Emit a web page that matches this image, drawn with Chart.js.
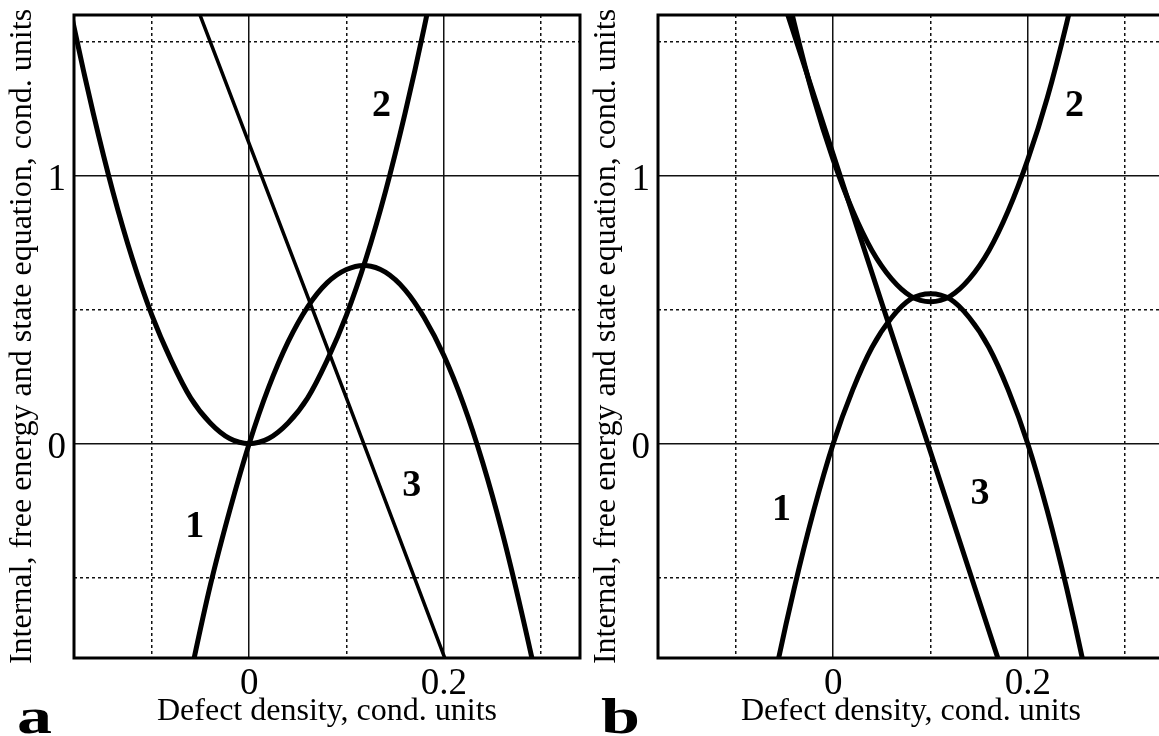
<!DOCTYPE html>
<html><head><meta charset="utf-8">
<script src="https://cdn.jsdelivr.net/npm/chart.js@4.4.1/dist/chart.umd.min.js"></script>
<style>
html,body{margin:0;padding:0;background:#fff;overflow:hidden;width:1159px;height:736px;position:relative;}
.panel{position:absolute;top:0;width:590px;height:736px;}
#pa{left:0px}
#pb{left:584px}
</style></head><body>
<div class="panel" id="pa"><canvas id="ca" width="590" height="736"></canvas></div>
<div class="panel" id="pb"><canvas id="cb" width="590" height="736"></canvas></div>
<script>
// ---- Axis ticks ----
const xMajorTicks = [0, 0.2];
const xTickLabels = ['0', '0.2'];
const xMinorTicks = [-0.1, 0.1, 0.3];
const yMajorTicks = [0, 1];
const yTickLabels = ['0', '1'];
const yMinorTicks = [-0.5, 0.5, 1.5];

// ---- Panel a ----
const a1X = [-0.08, -0.06, -0.04, -0.02, 0, 0.02, 0.04, 0.06, 0.08, 0.10, 0.12, 0.14, 0.16, 0.18, 0.20, 0.22, 0.24, 0.26, 0.28, 0.30, 0.32];
const a1Y = [-1.22, -0.86, -0.53, -0.25, 0, 0.21, 0.38, 0.51, 0.60, 0.65, 0.665, 0.64, 0.575, 0.47, 0.33, 0.15, -0.07, -0.33, -0.63, -0.96, -1.34];
const a2X = [-0.20, -0.18, -0.16, -0.14, -0.12, -0.10, -0.08, -0.06, -0.04, -0.02, 0, 0.02, 0.04, 0.06, 0.08, 0.10, 0.12, 0.14, 0.16, 0.18, 0.20];
const a2Y = [1.92, 1.555, 1.23, 0.94, 0.69, 0.48, 0.31, 0.17, 0.077, 0.019, 0, 0.019, 0.077, 0.17, 0.31, 0.48, 0.69, 0.94, 1.23, 1.555, 1.92];
const a3X = [-0.06, 0, 0.1, 0.2, 0.22];
const a3Y = [1.69, 1.12, 0.17, -0.79, -0.98];

// ---- Panel b ----
const b1X = [-0.08, -0.06, -0.04, -0.02, 0, 0.02, 0.04, 0.06, 0.08, 0.10, 0.12, 0.14, 0.16, 0.18, 0.20, 0.22, 0.24, 0.26, 0.28];
const b1Y = [-1.25, -0.87, -0.54, -0.25, 0, 0.20, 0.36, 0.47, 0.54, 0.56, 0.54, 0.47, 0.36, 0.20, 0, -0.25, -0.54, -0.87, -1.25];
const b2X = [-0.08, -0.06, -0.04, -0.02, 0, 0.02, 0.04, 0.06, 0.08, 0.10, 0.12, 0.14, 0.16, 0.18, 0.20, 0.22, 0.24, 0.26, 0.28];
const b2Y = [2.25, 1.89, 1.57, 1.29, 1.06, 0.87, 0.72, 0.615, 0.55, 0.53, 0.55, 0.615, 0.72, 0.87, 1.06, 1.29, 1.57, 1.89, 2.25];
const b3X = [-0.06, 0, 0.1, 0.18];
const b3Y = [1.75, 1.08, -0.03, -0.92];

const curveLabels = ['1', '2', '3'];
const panelLetters = ['a', 'b'];
const xTitle = 'Defect density, cond. units';
const yTitle = 'Internal, free energy and state equation, cond. units';

const FONT = '"Liberation Serif", "Times New Roman", serif';

const framePlugin = {
  id: 'frame',
  afterDatasetsDraw(chart, args, opts) {
    const {ctx, chartArea: ca, scales} = chart;
    ctx.save();
    ctx.lineWidth = 3;
    ctx.strokeStyle = '#000';
    ctx.strokeRect(ca.left, ca.top, ca.right - ca.left, ca.bottom - ca.top);
    ctx.fillStyle = '#000';
    ctx.font = 'bold 38px ' + FONT;
    ctx.textAlign = 'center';
    ctx.textBaseline = 'middle';
    opts.labels.forEach(l => {
      ctx.fillText(l.text, scales.x.getPixelForValue(l.x), scales.y.getPixelForValue(l.y));
    });
    ctx.font = 'bold 50px ' + FONT;
    ctx.textAlign = 'left';
    ctx.textBaseline = 'alphabetic';
    ctx.translate(ca.left + opts.letterDx, opts.letterY);
    ctx.scale(1.4, 1);
    ctx.fillText(opts.letter, 0, 0);
    ctx.restore();
  }
};

function ds(xs, ys, w) {
  return {
    data: xs.map((x, i) => ({x: x, y: ys[i]})),
    borderColor: '#000',
    borderWidth: w,
    pointRadius: 0,
    tension: 0.35,
    clip: 0,
    fill: false
  };
}

function noPadH(s) { s.paddingLeft = 0; s.paddingRight = 0; }
function noPadV(s) { s.paddingTop = 0; s.paddingBottom = 0; }

function makeChart(id, datasets, labelPos, letter) {
  return new Chart(document.getElementById(id), {
    type: 'scatter',
    data: {datasets: datasets},
    options: {
      responsive: false,
      animation: false,
      devicePixelRatio: 1,
      showLine: true,
      layout: {padding: {top: 15, right: 10, left: 0, bottom: 0}},
      plugins: {
        legend: {display: false},
        tooltip: {enabled: false},
        frame: {labels: labelPos, letter: letter, letterDx: -57, letterY: 733}
      },
      scales: {
        x: {
          type: 'linear', position: 'bottom', min: -0.18, max: 0.34,
          afterBuildTicks: s => { s.ticks = xMajorTicks.map(v => ({value: v})); },
          afterFit: s => { s.height = 78; noPadH(s); },
          ticks: {
            callback: (v, i) => xTickLabels[i],
            font: {family: FONT, size: 37}, color: '#000', padding: 4, maxRotation: 0
          },
          grid: {color: '#111', lineWidth: 1.5, drawTicks: false},
          border: {display: false},
          title: {display: true, text: xTitle, font: {family: FONT, size: 32}, color: '#000', padding: {top: 0, bottom: 5}}
        },
        xm: {
          type: 'linear', position: 'bottom', min: -0.18, max: 0.34,
          afterBuildTicks: s => { s.ticks = xMinorTicks.map(v => ({value: v})); },
          afterFit: s => { s.height = 0; noPadH(s); },
          ticks: {display: false},
          grid: {color: '#111', lineWidth: 1.5, drawTicks: false},
          border: {display: false, dash: [3, 3]}
        },
        y: {
          type: 'linear', position: 'left', min: -0.8, max: 1.6,
          afterBuildTicks: s => { s.ticks = yMajorTicks.map(v => ({value: v})); },
          afterFit: s => { s.width = 74; noPadV(s); },
          ticks: {
            callback: (v, i) => yTickLabels[i],
            font: {family: FONT, size: 37}, color: '#000', padding: 8, labelOffset: 5
          },
          grid: {color: '#111', lineWidth: 1.5, drawTicks: false},
          border: {display: false},
          title: {display: true, text: yTitle, font: {family: FONT, size: 32}, color: '#000', padding: {top: 3, bottom: 0}}
        },
        ym: {
          type: 'linear', position: 'left', min: -0.8, max: 1.6,
          afterBuildTicks: s => { s.ticks = yMinorTicks.map(v => ({value: v})); },
          afterFit: s => { s.width = 0; noPadV(s); },
          ticks: {display: false},
          grid: {color: '#111', lineWidth: 1.5, drawTicks: false},
          border: {display: false, dash: [3, 3]}
        }
      }
    },
    plugins: [framePlugin]
  });
}

makeChart('ca', [ds(a1X, a1Y, 5), ds(a2X, a2Y, 5), ds(a3X, a3Y, 3.5)], [
  {text: curveLabels[0], x: -0.056, y: -0.31},
  {text: curveLabels[1], x: 0.136, y: 1.26},
  {text: curveLabels[2], x: 0.167, y: -0.16}
], panelLetters[0]);

makeChart('cb', [ds(b1X, b1Y, 5), ds(b2X, b2Y, 5), ds(b3X, b3Y, 5)], [
  {text: curveLabels[0], x: -0.053, y: -0.25},
  {text: curveLabels[1], x: 0.248, y: 1.26},
  {text: curveLabels[2], x: 0.151, y: -0.19}
], panelLetters[1]);
</script>
</body></html>
